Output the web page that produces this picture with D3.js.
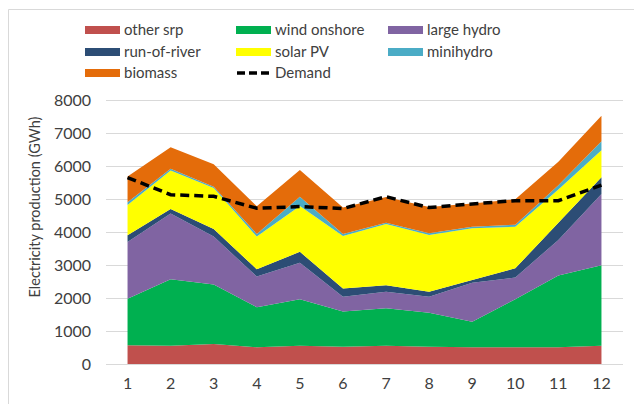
<!DOCTYPE html>
<html>
<head>
<meta charset="utf-8">
<script src="https://cdn.jsdelivr.net/npm/d3@7"></script>
<style>
  body { margin: 0; background: #fff; }
  svg { display: block; }
</style>
</head>
<body>
<div id="plot"></div>
<script>
// monthly electricity production by source (GWh)
const months = [1, 2, 3, 4, 5, 6, 7, 8, 9, 10, 11, 12];
const otherSrp    = [570, 555, 605, 505, 555, 525, 555, 525, 505, 505, 505, 555];
const windOnshore = [1410, 2015, 1805, 1215, 1405, 1065, 1135, 1030, 775, 1455, 2175, 2435];
const largeHydro  = [1720, 1990, 1450, 930, 1110, 450, 500, 485, 1180, 660, 1080, 2160];
const runOfRiver  = [200, 140, 230, 220, 330, 250, 200, 150, 85, 280, 520, 510];
const solarPV     = [920, 1160, 1240, 990, 1390, 1590, 1850, 1720, 1565, 1260, 1010, 820];
const miniHydro   = [80, 60, 40, 80, 280, 60, 40, 50, 50, 60, 130, 270];
const biomass     = [780, 650, 680, 840, 810, 800, 780, 800, 700, 770, 710, 770];
const demand      = [5650, 5130, 5080, 4720, 4770, 4710, 5070, 4740, 4850, 4950, 4950, 5420];
const yTicks = [0, 1000, 2000, 3000, 4000, 5000, 6000, 7000, 8000];

const seriesNames = ["other srp", "wind onshore", "large hydro", "run-of-river", "solar PV", "minihydro", "biomass"];
const seriesColors = ["#c0504d", "#00b050", "#8064a2", "#2c4d75", "#ffff00", "#4bacc6", "#e46c0a"];
const seriesValues = [otherSrp, windOnshore, largeHydro, runOfRiver, solarPV, miniHydro, biomass];

const fontFamily = "Lato, 'Liberation Sans', Arial, sans-serif";
const textColor = "#404040";

const width = 634, height = 404;
const margin = { top: 100, right: 11, bottom: 40, left: 106 };
const innerWidth = width - margin.left - margin.right;
const innerHeight = height - margin.top - margin.bottom;

const svg = d3.select("#plot").append("svg")
    .attr("width", width)
    .attr("height", height)
    .attr("font-family", fontFamily);

// chart border (only top and left edges fall inside the picture)
svg.append("path")
    .attr("d", `M${width},9.5H8.5V${height}`)
    .attr("fill", "none")
    .attr("stroke", "#d9d9d9");

const g = svg.append("g").attr("transform", `translate(${margin.left},${margin.top})`);

const xBand = d3.scaleBand().domain(months).range([0, innerWidth]);
const x = d => xBand(d) + xBand.bandwidth() / 2;
const y = d3.scaleLinear().domain([0, 8000]).range([innerHeight, 0]);

// gridlines
g.selectAll(".grid")
    .data(yTicks)
    .enter()
    .append("line")
    .attr("x1", 0).attr("x2", innerWidth)
    .attr("y1", d => Math.round(y(d)) + 0.5)
    .attr("y2", d => Math.round(y(d)) + 0.5)
    .attr("stroke", "#d9d9d9")
    .attr("stroke-width", 1);

// stacked areas
const table = months.map((m, i) => {
    const row = { month: m };
    seriesNames.forEach((name, k) => { row[name] = seriesValues[k][i]; });
    return row;
});
const stacked = d3.stack().keys(seriesNames)(table);

const area = d3.area()
    .x(d => x(d.data.month))
    .y0(d => y(d[0]))
    .y1(d => y(d[1]));

g.selectAll(".layer")
    .data(stacked)
    .enter()
    .append("path")
    .attr("class", "layer")
    .attr("d", area)
    .attr("fill", (d, i) => seriesColors[i]);

// demand line
const line = d3.line()
    .x((d, i) => x(months[i]))
    .y(d => y(d));

g.append("path")
    .datum(demand)
    .attr("d", line)
    .attr("fill", "none")
    .attr("stroke", "#000")
    .attr("stroke-width", 3.5)
    .attr("stroke-dasharray", "9,5");

// axes
const yAxis = d3.axisLeft(y).tickValues(yTicks).tickFormat(d3.format("d")).tickSize(0).tickPadding(15);
g.append("g").call(yAxis)
    .attr("font-family", fontFamily)
    .attr("font-size", 16)
    .call(s => s.select(".domain").remove());

const xAxis = d3.axisBottom(xBand).tickSize(0).tickPadding(14);
g.append("g")
    .attr("transform", `translate(0,${innerHeight})`)
    .call(xAxis)
    .attr("font-family", fontFamily)
    .attr("font-size", 16)
    .call(s => s.select(".domain").remove());

g.selectAll(".tick text").attr("fill", textColor);

// y axis title
svg.append("text")
    .attr("transform", `translate(40,207) rotate(-90)`)
    .attr("text-anchor", "middle")
    .attr("font-size", 14.5)
    .attr("fill", textColor)
    .text("Electricity production (GWh)");

// legend
const legendItems = seriesNames.map((name, i) => ({ name, color: seriesColors[i], type: "area" }));
legendItems.push({ name: "Demand", color: "#000", type: "line" });
const colX = [85, 236, 388];
const rowY = [30, 52, 73];

const legend = svg.selectAll(".legend")
    .data(legendItems)
    .enter()
    .append("g")
    .attr("class", "legend")
    .attr("transform", (d, i) => `translate(${colX[i % 3]},${rowY[Math.floor(i / 3)]})`);

legend.filter(d => d.type === "area")
    .append("rect")
    .attr("x", 0).attr("y", -4)
    .attr("width", 35).attr("height", 8)
    .attr("fill", d => d.color);

legend.filter(d => d.type === "line")
    .append("line")
    .attr("x1", 1).attr("x2", 35)
    .attr("y1", 0).attr("y2", 0)
    .attr("stroke", "#000")
    .attr("stroke-width", 3.5)
    .attr("stroke-dasharray", "8,4");

legend.append("text")
    .attr("x", 39)
    .attr("y", 5)
    .attr("font-size", 15)
    .attr("fill", textColor)
    .text(d => d.name);
</script>
</body>
</html>
